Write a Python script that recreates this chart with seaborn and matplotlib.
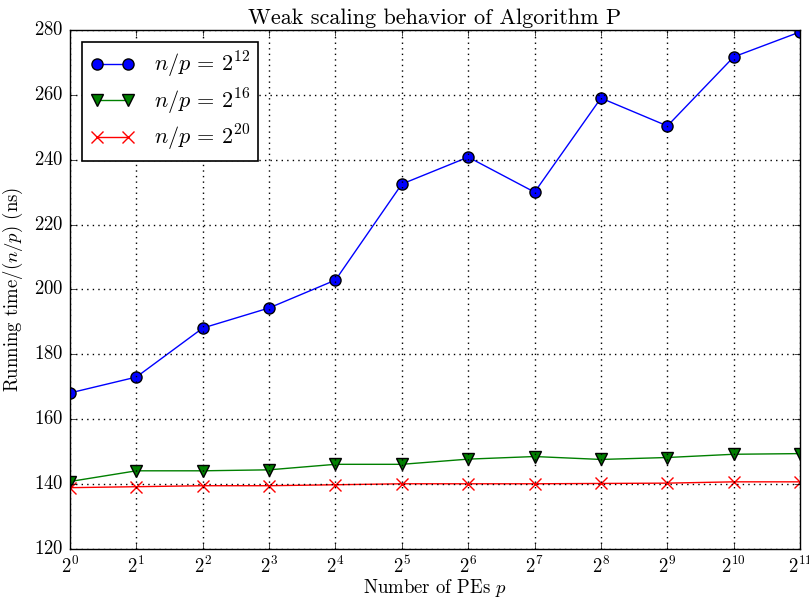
import numpy as np
import pandas as pd
import matplotlib
matplotlib.use("Agg")
import matplotlib.pyplot as plt
import seaborn as sns

# data
pes = [2 ** k for k in range(12)]
t_2_12 = [168.1, 173.0, 188.1, 194.3, 202.9, 232.5, 240.8, 230.0, 259.0, 250.4, 271.7, 279.4]
t_2_16 = [140.8, 144.1, 144.1, 144.4, 146.1, 146.1, 147.7, 148.5, 147.6, 148.2, 149.2, 149.4]
t_2_20 = [138.9, 139.2, 139.5, 139.5, 139.8, 140.1, 140.1, 140.1, 140.2, 140.3, 140.7, 140.7]
labels = [r"$n/p\,=\,2^{12}$", r"$n/p\,=\,2^{16}$", r"$n/p\,=\,2^{20}$"]

plt.style.use("classic")
plt.rcParams["font.family"] = "serif"
plt.rcParams["font.serif"] = ["cmr10"]
plt.rcParams["mathtext.fontset"] = "cm"
plt.rcParams["axes.unicode_minus"] = False
plt.rcParams["axes.formatter.use_mathtext"] = True

fig = plt.figure(figsize=(8.09, 5.99), dpi=100)
fig.patch.set_facecolor("white")
ax = fig.add_axes([0.0865, 0.0835, 0.9025, 0.8665])

# ---------------- LINES ----------------
sns.lineplot(x=pes, y=t_2_12, ax=ax, color="b", marker="o", markersize=8,
             markeredgecolor="k", markeredgewidth=1, linewidth=1, label=labels[0])
sns.lineplot(x=pes, y=t_2_16, ax=ax, color="g", marker="v", markersize=8,
             markeredgecolor="k", markeredgewidth=1, linewidth=1, label=labels[1])
sns.lineplot(x=pes, y=t_2_20, ax=ax, color="r", marker="x", markersize=8,
             markeredgecolor="r", markeredgewidth=1, linewidth=1, label=labels[2])

ax.set_xscale("log", base=2)
ax.set_xlim(1, 2048)
ax.set_xticks(pes)
ax.set_ylim(120, 280)
ax.set_yticks(range(120, 281, 20))
ax.minorticks_off()
ax.tick_params(labelsize=13.5, pad=5)
ax.grid(True, color="k", linestyle=":", linewidth=1)

ax.set_xlabel(r"Number of PEs $p$", fontsize=13.5, labelpad=0)
ax.set_ylabel(r"Running time/$(n/p)$ (ns)", fontsize=13.5, labelpad=6)
ax.set_title("Weak scaling behavior of Algorithm P", fontsize=16, pad=4)

leg = ax.legend(loc="upper left", numpoints=2, fontsize=16, fancybox=False,
                borderaxespad=0.55, labelspacing=0.3, borderpad=0.35,
                handletextpad=0.9)
leg.get_frame().set_linewidth(1.2)

fig.savefig("out.png", dpi=100, facecolor="white")
